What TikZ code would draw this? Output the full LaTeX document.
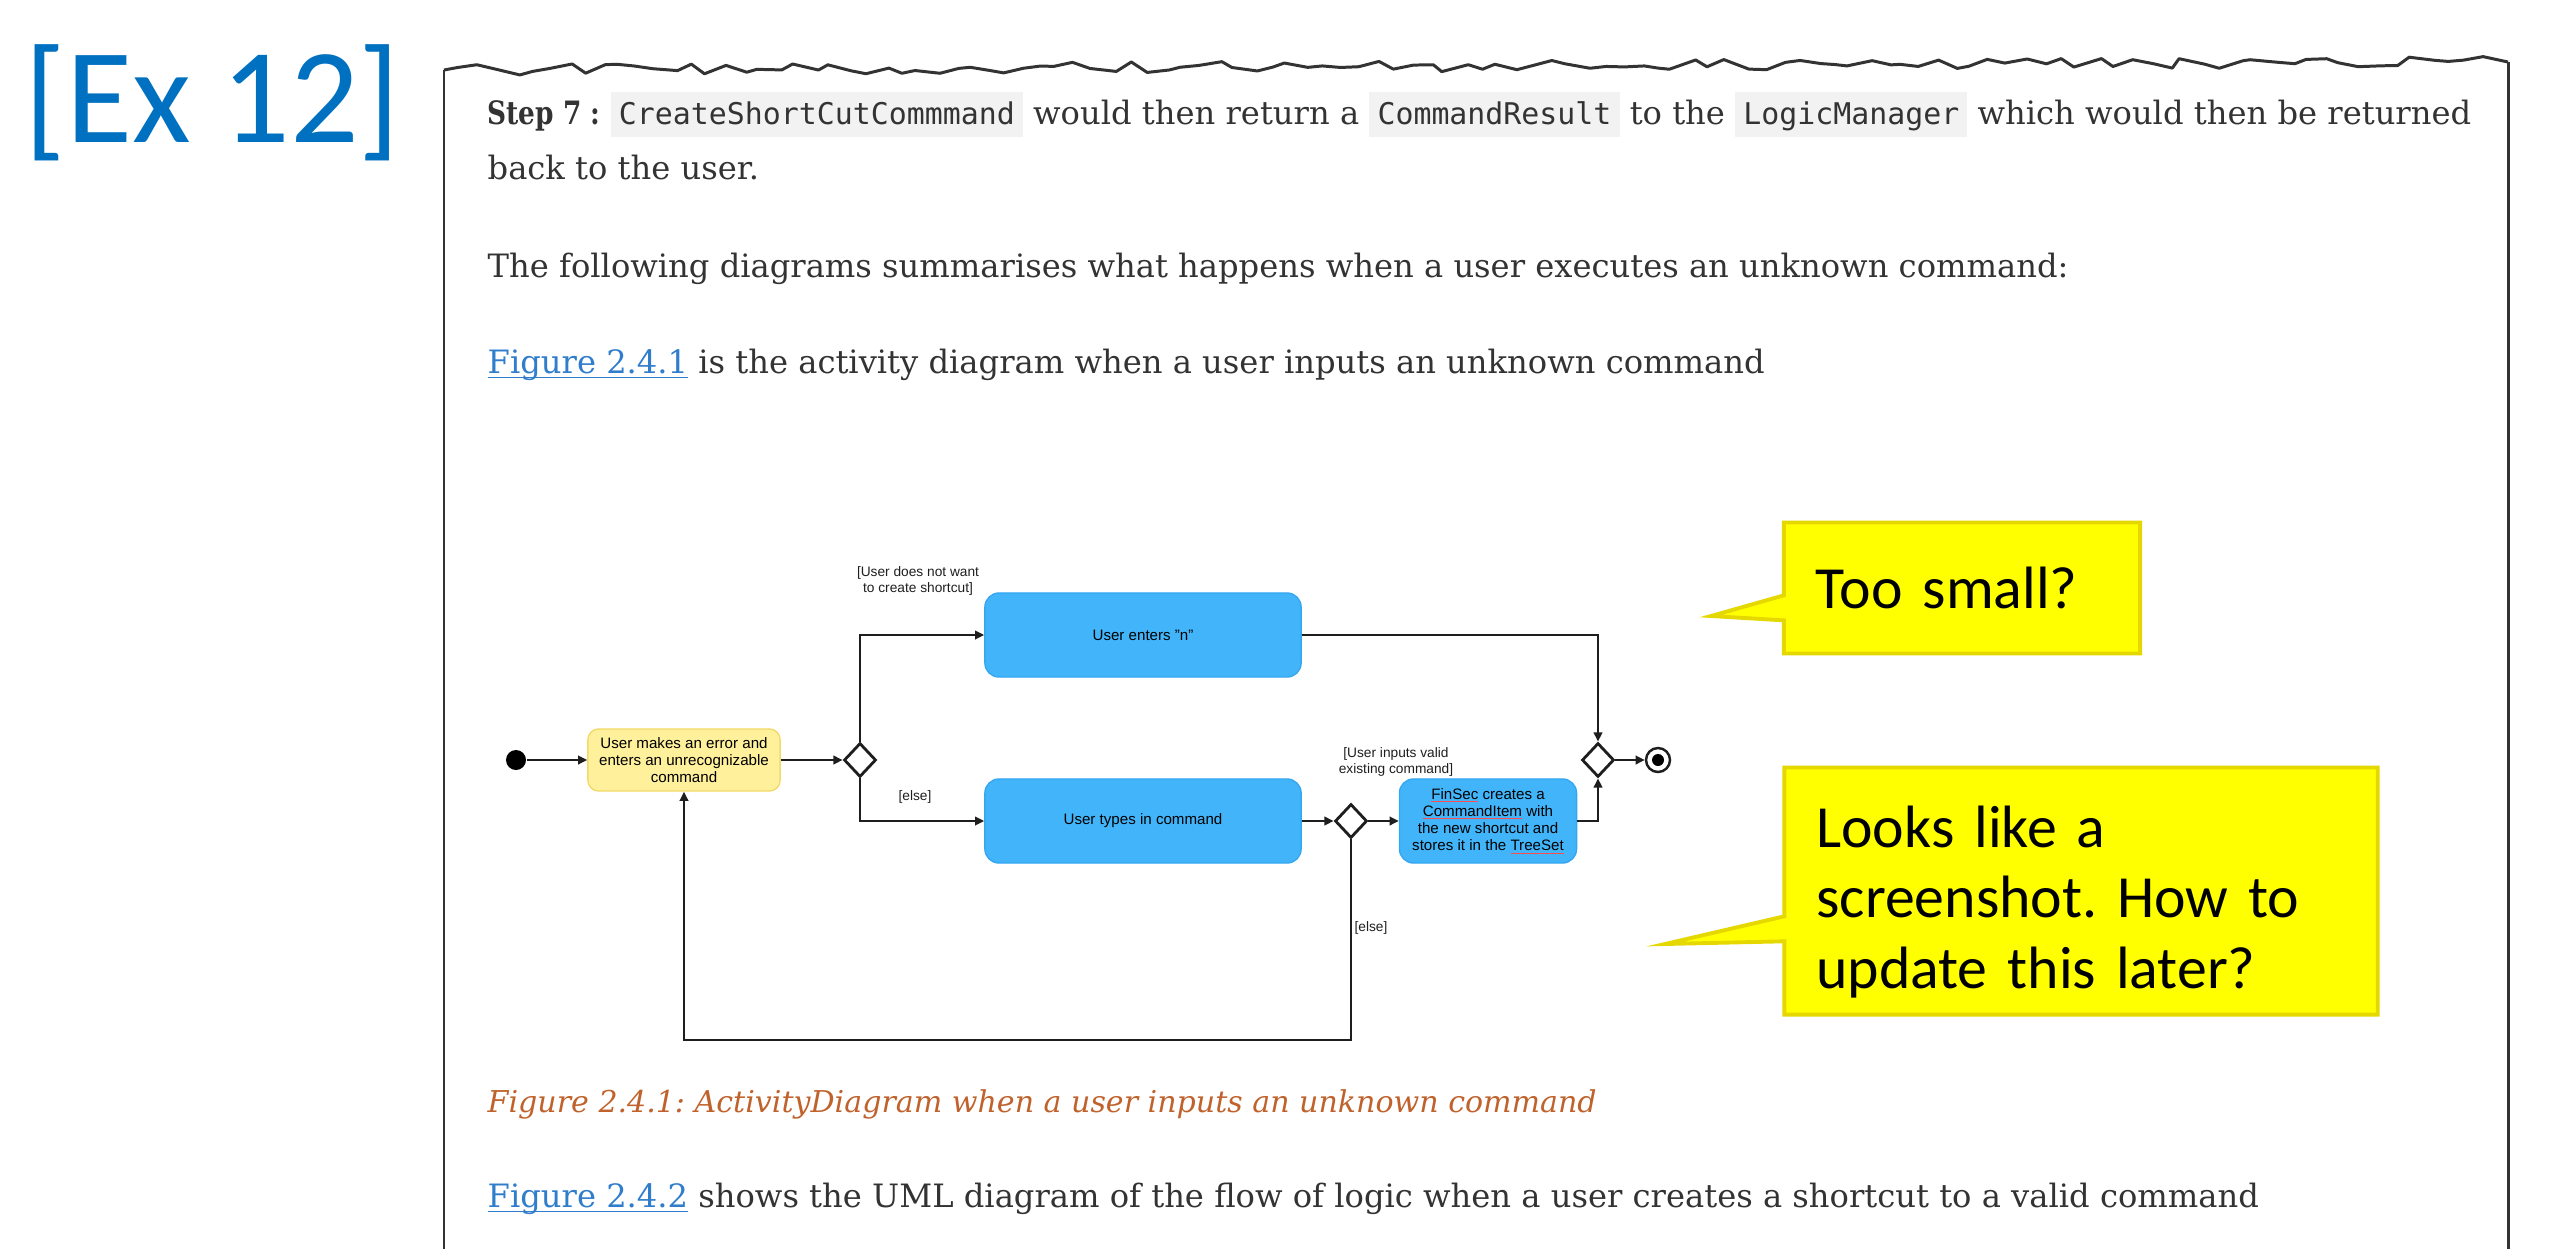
\documentclass[tikz,border=0pt]{standalone}
\usepackage{fontspec}
\setmainfont{DejaVu Serif}
\setsansfont{Liberation Sans}
\setmonofont{DejaVu Sans Mono}
\newfontfamily\notefont{Carlito}
\usepackage{xcolor}
\usetikzlibrary{shapes,shapes.callouts,arrows.meta,positioning,calc,decorations.pathmorphing}

\definecolor{exblue}{HTML}{0070C0}
\definecolor{bodygray}{HTML}{333333}
\definecolor{linkblue}{HTML}{2F7DCB}
\definecolor{capbrown}{HTML}{C0622C}
\definecolor{codebg}{HTML}{F2F2F2}
\definecolor{framegray}{HTML}{333333}
\definecolor{flowgray}{HTML}{1E1E1E}
\definecolor{actyellow}{HTML}{FFF09C}
\definecolor{actyellowline}{HTML}{F2DA6A}
\definecolor{actblue}{HTML}{42B5FA}
\definecolor{actblueline}{HTML}{35A7F2}
\definecolor{noteyellow}{HTML}{FFFF00}
\definecolor{noteline}{HTML}{E4D800}

\newsavebox\linkbox
\newcommand{\inlinecode}[1]{{\setlength\fboxsep{0pt}\colorbox{codebg}{\rule[-3.7pt]{0pt}{12.8pt}\hspace{2.3pt}{\ttfamily\fontsize{8.5pt}{10pt}\selectfont #1}\hspace{2.3pt}}}}
\newcommand{\figlink}[1]{{\color{linkblue}\sbox\linkbox{#1}\rlap{\rule[-1.5pt]{\wd\linkbox}{0.45pt}}\usebox\linkbox}}
\newcommand{\spellmark}[1]{\sbox\linkbox{#1}\rlap{\color{red!70}\rule[-0.8pt]{\wd\linkbox}{0.25pt}}\usebox\linkbox}

\begin{document}
\frenchspacing
\begin{tikzpicture}[x=0.01cm,y=-0.01cm,
    para/.style={anchor=base west,inner sep=0pt,text=bodygray,font=\fontsize{9.15pt}{11pt}\selectfont},
    act/.style={draw=actblueline,fill=actblue,line width=0.4pt,rounded corners=4pt,align=center,inner sep=0pt,
        font=\sffamily\fontsize{4.3pt}{4.9pt}\selectfont,minimum width=3.16cm,minimum height=0.84cm},
    decision/.style={diamond,draw=flowgray,fill=white,line width=0.8pt,inner sep=0pt,minimum width=0.32cm,minimum height=0.34cm},
    guard/.style={align=center,inner sep=0pt,text=flowgray,font=\sffamily\fontsize{3.9pt}{4.4pt}\selectfont},
    flow/.style={draw=flowgray,line width=0.8pt,-{Triangle[length=2.6pt,width=2.4pt]}},
    note/.style={rectangle callout,fill=noteyellow,draw=noteline,line width=1.1pt,inner xsep=0.32cm,inner ysep=0pt,
        align=left,font=\notefont\fontsize{17pt}{20pt}\selectfont}]
    \useasboundingbox (0,0) rectangle (2560,1248);

    \node[anchor=base west,inner sep=0pt,text=exblue,font=\notefont\fontsize{38.5pt}{40pt}\selectfont] (exlabel) at (24,142) {[Ex 12]};

    % torn page
    \pgfmathsetseed{12}
    \draw[framegray,line width=0.85pt] (444,1250) -- (444,70);
    \draw[framegray,line width=0.85pt,line join=round,decorate,decoration={random steps,segment length=5pt,amplitude=1.6pt}] (444,70) -- (2508,62);
    \draw[framegray,line width=0.85pt] (2508,62) -- (2508,1250);

    \node[para] (step) at (487,124) {\scalebox{0.82}[1]{\textbf{Step 7 :}} \inlinecode{CreateShortCutCommmand} would then return a \inlinecode{CommandResult} to the \inlinecode{LogicManager} which would then be returned};
    \node[para] (back) at (487,179) {back to the user.};
    \node[para] (summary) at (487,277) {The following diagrams summarises what happens when a user executes an unknown command:};
    \node[para] (intro) at (487,373) {\figlink{Figure 2.4.1} is the activity diagram when a user inputs an unknown command};
    \node[para,text=capbrown,font=\itshape\fontsize{8.55pt}{11pt}\selectfont] (caption) at (487,1112) {Figure 2.4.1: ActivityDiagram when a user inputs an unknown command};
    \node[para] (next) at (487,1207) {\figlink{Figure 2.4.2} shows the UML diagram of the flow of logic when a user creates a shortcut to a valid command};

    % activity diagram
    \node[circle,fill=black,inner sep=0pt,minimum size=0.2cm] (start) at (516,760) {};
    \node[act,fill=actyellow,draw=actyellowline,rounded corners=3pt,minimum width=1.92cm,minimum height=0.62cm] (error) at (684,760) {User makes an error and\\enters an unrecognizable\\command};
    \node[decision] (dia1) at (860,760) {};
    \node[act] (enters) at (1143,635) {User enters "n"};
    \node[act] (types) at (1143,821) {User types in command};
    \node[decision] (dia2) at (1351,821) {};
    \node[act,minimum width=1.77cm] (create) at (1488,821) {\spellmark{FinSec} creates a\\\spellmark{CommandItem} with\\the new shortcut and\\stores it in the \spellmark{TreeSet}};
    \node[decision] (dia3) at (1598,760) {};
    \node[circle,draw=flowgray,line width=0.7pt,inner sep=0pt,minimum size=0.24cm] (stop) at (1658,760) {};
    \node[circle,fill=black,inner sep=0pt,minimum size=0.12cm] (stopdot) at (stop) {};
    \coordinate (loopturn) at (1351,1040);

    \node[guard] (nocut) at (918,581) {[User does not want\\to create shortcut]};
    \node[guard] (else1) at (915,797) {[else]};
    \node[guard] (valid) at (1396,762) {[User inputs valid\\existing command]};
    \node[guard] (else2) at (1371,928) {[else]};

    \draw[flow] (start) -- (error);
    \draw[flow] (error) -- (dia1);
    \draw[flow] (dia1) |- (enters);
    \draw[flow] (dia1) |- (types);
    \draw[flow] (types) -- (dia2);
    \draw[flow] (dia2) -- (create);
    \draw[flow] (enters) -| (dia3);
    \draw[flow] (create) -| (dia3);
    \draw[flow] (dia3) -- (stop);
    \draw[flow] (dia2) -- (loopturn) -| (error);

    % comments
    \node[note,callout absolute pointer={(1711,616)},minimum width=3.56cm,minimum height=1.31cm,text width=2.92cm] (small) at (1962,588) {Too small?};
    \node[note,callout absolute pointer={(1665,944)},minimum width=5.93cm,minimum height=2.47cm,text width=5.29cm] (shot) at (2081,891) {\rule{0pt}{18pt}Looks like a\\screenshot. How to\\update this later?};
\end{tikzpicture}
\end{document}
